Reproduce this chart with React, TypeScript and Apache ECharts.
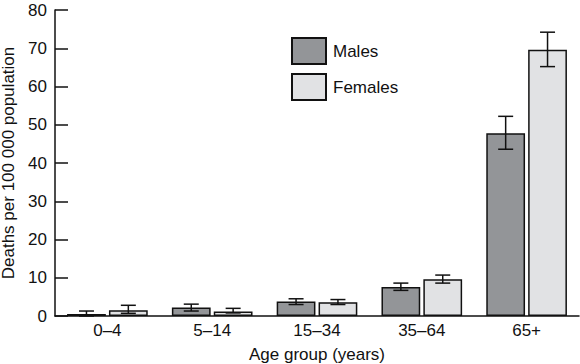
import React, { useEffect, useRef } from "react";
import * as echarts from "echarts";

const categories = ["0–4", "5–14", "15–34", "35–64", "65+"];
const malesValues = [0.5, 2.2, 3.8, 7.6, 47.8];
const malesLow = [0, 1.3, 3.0, 6.7, 43.6];
const malesHigh = [1.3, 3.1, 4.5, 8.6, 52.2];
const femalesValues = [1.5, 1.2, 3.6, 9.6, 69.6];
const femalesLow = [0.7, 0.8, 3.0, 8.6, 65.2];
const femalesHigh = [2.8, 2.0, 4.3, 10.7, 74.2];
const yTicks = { min: 0, max: 80, interval: 10 };

const BAR_PCT = 0.37;
const GAP_PCT = 0.08;

function errorSeries(name: string, low: number[], high: number[], sign: number) {
  return {
    type: "custom",
    name: name + " error",
    silent: true,
    z: 5,
    data: categories.map((_, i) => [i, low[i], high[i]]),
    renderItem: (params: any, api: any) => {
      const idx = api.value(0);
      const lo = api.coord([idx, api.value(1)]);
      const hi = api.coord([idx, api.value(2)]);
      const band = api.size([1, 0])[0];
      const bw = band * BAR_PCT;
      const offset = sign * (bw + bw * GAP_PCT) / 2;
      const x = lo[0] + offset;
      const cap = 7.5;
      const style = { stroke: "#111", lineWidth: 1.5, fill: null };
      return {
        type: "group",
        children: [
          { type: "line", shape: { x1: x, y1: lo[1], x2: x, y2: hi[1] }, style },
          { type: "line", shape: { x1: x - cap, y1: hi[1], x2: x + cap, y2: hi[1] }, style },
          { type: "line", shape: { x1: x - cap, y1: lo[1], x2: x + cap, y2: lo[1] }, style },
        ],
      };
    },
  };
}

export default function App() {
  const ref = useRef<HTMLDivElement>(null);
  useEffect(() => {
    if (!ref.current) return;
    const chart = echarts.init(ref.current, null, { renderer: "svg" });
    const font = "'Liberation Sans', Arial, Helvetica, sans-serif";
    chart.setOption({
      animation: false,
      textStyle: { fontFamily: font },
      grid: { left: 55, right: 1, top: 10, bottom: 48, containLabel: false, outerBoundsMode: "none" },
      legend: {
        orient: "vertical",
        left: 291,
        top: 37,
        padding: 0,
        itemWidth: 34,
        itemHeight: 26,
        itemGap: 8,
        icon: "rect",
        data: ["Males", "Females"],
        textStyle: { fontSize: 17, color: "#111", fontFamily: font, padding: [0, 0, 0, 2] },
      },
      xAxis: {
        type: "category",
        data: categories,
        axisLine: { lineStyle: { color: "#111", width: 1.5 } },
        axisTick: { show: false },
        axisLabel: { fontSize: 17, color: "#111", margin: 6, fontFamily: font },
        name: "Age group (years)",
        nameLocation: "middle",
        nameGap: 30,
        nameTextStyle: { fontSize: 17, color: "#111", fontFamily: font },
      },
      yAxis: {
        type: "value",
        min: yTicks.min,
        max: yTicks.max,
        interval: yTicks.interval,
        axisLine: { show: true, lineStyle: { color: "#111", width: 1.5 } },
        axisTick: { show: true, inside: true, length: 13, lineStyle: { color: "#111", width: 1.5 } },
        splitLine: { show: false },
        axisLabel: { fontSize: 17, color: "#111", margin: 8, fontFamily: font },
        name: "Deaths per 100 000 population",
        nameLocation: "middle",
        nameGap: 36,
        nameTextStyle: { fontSize: 17, color: "#111", fontFamily: font },
      },
      series: [
        {
          type: "bar",
          name: "Males",
          data: malesValues,
          barWidth: BAR_PCT * 100 + "%",
          barGap: GAP_PCT * 100 + "%",
          itemStyle: { color: "#939598", borderColor: "#111", borderWidth: 1.5 },
        },
        {
          type: "bar",
          name: "Females",
          data: femalesValues,
          barWidth: BAR_PCT * 100 + "%",
          barGap: GAP_PCT * 100 + "%",
          itemStyle: { color: "#e1e2e4", borderColor: "#111", borderWidth: 1.5 },
        },
        errorSeries("Males", malesLow, malesHigh, -1),
        errorSeries("Females", femalesLow, femalesHigh, 1),
      ],
    });
    return () => chart.dispose();
  }, []);
  return <div ref={ref} style={{ width: 580, height: 364, position: "absolute", left: 0, top: 0 }} />;
}
